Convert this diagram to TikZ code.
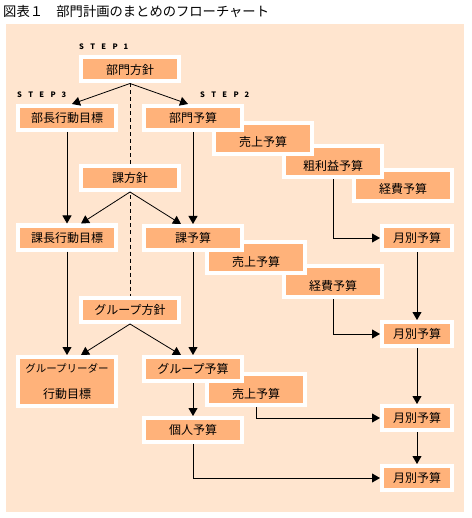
\documentclass[tikz,border=0pt]{standalone}
\usepackage{fontspec}
\setmainfont{Noto Sans CJK JP}
\usetikzlibrary{arrows.meta,backgrounds}
\definecolor{peach}{RGB}{255,229,207}
\definecolor{boxor}{RGB}{255,178,122}
\newcommand{\lsp}[1]{\makebox[11.1pt][l]{#1}}
\begin{document}
\begin{tikzpicture}[x=1pt,y=-1pt,
  box/.style={rectangle,fill=boxor,draw=white,line width=4pt,minimum width=98pt,minimum height=24pt,inner sep=0pt,font=\fontsize{12}{14}\selectfont},
  subbox/.style={box,minimum height=31pt,text height=17pt,text depth=0pt},
  mbox/.style={box,minimum width=70pt},
  steplbl/.style={anchor=west,inner sep=0pt,font=\fontsize{7.5}{8}\selectfont\bfseries},
  conn/.style={draw=black,line width=0.8pt,-{Triangle[length=8pt,width=9pt]}},
  dashline/.style={draw=black,line width=0.8pt,dash pattern=on 4pt off 3pt}]
\useasboundingbox (0,0) rectangle (471,518);
\begin{scope}[on background layer]
  \fill[peach] (6,24) rectangle (464,512);
\end{scope}
\node[anchor=west,inner sep=0pt,font=\fontsize{13.3}{14}\selectfont] (title) at (3,12) {図表１　部門計画のまとめのフローチャート};
% step labels
\node[steplbl] (s1) at (79,47) {\lsp{S}\lsp{T}\lsp{E}\lsp{P}\lsp{1}};
\node[steplbl] (s3) at (17,95) {\lsp{S}\lsp{T}\lsp{E}\lsp{P}\lsp{3}};
\node[steplbl] (s2) at (200,95) {\lsp{S}\lsp{T}\lsp{E}\lsp{P}\lsp{2}};
% boxes (later ones first so earlier ones lie on top)
\node[mbox] (getsu4) at (417,478) {月別予算};
\node[mbox] (getsu3) at (417,418) {月別予算};
\node[mbox] (getsu2) at (417,334) {月別予算};
\node[mbox] (getsu1) at (417,238) {月別予算};
\node[box] (kojin) at (193,430) {個人予算};
\node[subbox] (uriage3) at (256,389.5) {売上予算};
\node[box] (groupyosan) at (193,369) {グループ予算};
\node[box,minimum height=49pt,align=center,font=\fontsize{12}{26}\selectfont] (leader) at (67,381.5) {{\fontsize{10.5}{26}\selectfont グループリーダー}\\行動目標};
\node[box] (grouphoshin) at (130,310) {グループ方針};
\node[subbox] (keihi2) at (333,281.5) {経費予算};
\node[subbox] (uriage2) at (256,257.5) {売上予算};
\node[box] (kayosan) at (193,238) {課予算};
\node[box] (kachou) at (67,237.5) {課長行動目標};
\node[box] (kahoshin) at (130,178) {課方針};
\node[subbox] (keihi1) at (403,185.5) {経費予算};
\node[subbox] (arari) at (333,162) {粗利益予算};
\node[subbox] (uriage1) at (263,138.5) {売上予算};
\node[box] (bumonyosan) at (193,118) {部門予算};
\node[box] (buchou) at (67,118) {部長行動目標};
\node[box] (hoshin1) at (130,69.5) {部門方針};
% dashed line behind
\begin{scope}[on background layer]
  \draw[dashline] (hoshin1.south) -- (grouphoshin.north);
\end{scope}
% connectors
\draw[conn] (hoshin1.south) -- ([xshift=5pt]buchou.north);
\draw[conn] (hoshin1.south) -- ([xshift=-5pt]bumonyosan.north);
\draw[conn] (buchou.south) -- (kachou.north);
\draw[conn] (bumonyosan.south) -- (kayosan.north);
\draw[conn] (kahoshin.south) -- ([xshift=14pt]kachou.north);
\draw[conn] (kahoshin.south) -- ([xshift=-12pt]kayosan.north);
\draw[conn] (kachou.south) -- (leader.north);
\draw[conn] (kayosan.south) -- (groupyosan.north);
\draw[conn] (grouphoshin.south) -- ([xshift=14pt]leader.north);
\draw[conn] (grouphoshin.south) -- ([xshift=-12pt]groupyosan.north);
\draw[conn] (groupyosan.south) -- (kojin.north);
\draw[conn] (arari.south) |- (getsu1.west);
\draw[conn] (keihi2.south) |- (getsu2.west);
\draw[conn] (uriage3.south) |- (getsu3.west);
\draw[conn] (kojin.south) |- (getsu4.west);
\draw[conn] (getsu1.south) -- (getsu2.north);
\draw[conn] (getsu2.south) -- (getsu3.north);
\draw[conn] (getsu3.south) -- (getsu4.north);
\end{tikzpicture}
\end{document}
